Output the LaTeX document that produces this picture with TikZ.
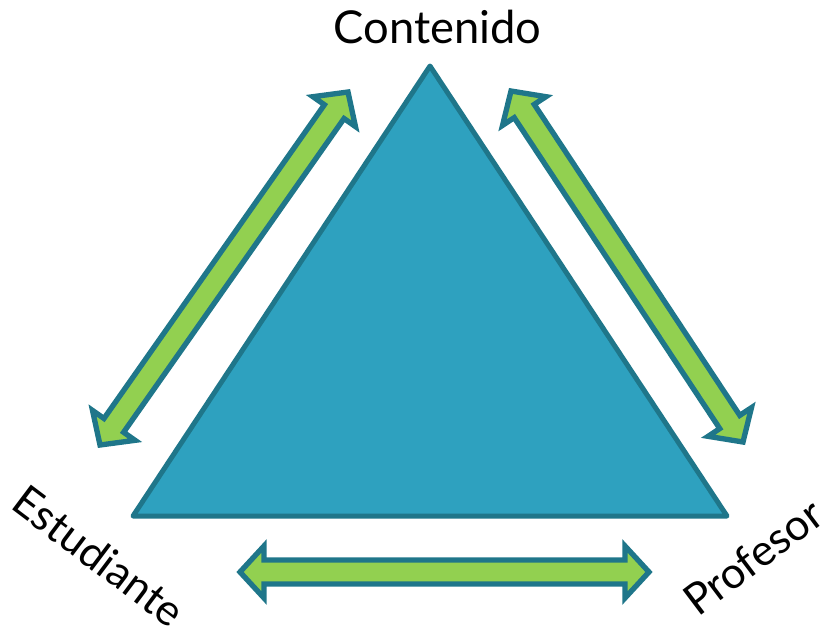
\documentclass[tikz,border=0pt]{standalone}
\usepackage{fontspec}
\setmainfont{Lato}
\usetikzlibrary{calc}

\definecolor{azulT}{HTML}{2EA1BF}
\definecolor{bordeT}{HTML}{1F768A}
\definecolor{verdeF}{HTML}{92D050}

\tikzset{
	vertice/.style={font=\fontsize{32.5}{38}\selectfont, inner sep=0pt},
	flecha/.style={draw=bordeT, fill=verdeF, line width=4pt, line join=miter},
	triangulo/.style={draw=bordeT, fill=azulT, line width=3.75pt, line join=round}
}

% flecha doble: nombre, punta 1, punta 2
\newcommand{\flechadoble}[3]{%
	\coordinate (#1a) at ($(#2)!18pt!(#3)$);
	\coordinate (#1b) at ($(#3)!18pt!(#2)$);
	\draw[flecha] (#2) -- ($(#1a)!19.5pt!90:(#3)$) -- ($(#1a)!9pt!90:(#3)$)
		-- ($(#1b)!9pt!-90:(#2)$) -- ($(#1b)!19.5pt!-90:(#2)$) -- (#3)
		-- ($(#1b)!19.5pt!90:(#2)$) -- ($(#1b)!9pt!90:(#2)$)
		-- ($(#1a)!9pt!-90:(#3)$) -- ($(#1a)!19.5pt!-90:(#3)$) -- cycle;}

\begin{document}
\begin{tikzpicture}[x=0.75pt,y=-0.75pt]
	\useasboundingbox (0,0) rectangle (838,633);
	
	\coordinate (C) at (430,66);
	\coordinate (E) at (133,516);
	\coordinate (P) at (727,516);
	\draw[triangulo] (C) -- (E) -- (P) -- cycle;
	
	\node[vertice, font=\fontsize{34}{40}\selectfont, anchor=base] (contenido) at (437.5,43) {Contenido};
	\node[vertice, rotate=-37] (estudiante) at (99,556) {Estudiante};
	\node[vertice, rotate=37] (profesor) at (753,557) {Profesor};
	
	\coordinate (izq1) at (100,445);
	\coordinate (izq2) at (348,92);
	\coordinate (der1) at (511,91);
	\coordinate (der2) at (743,442);
	\coordinate (aba1) at (240,572);
	\coordinate (aba2) at (649,572);
	
	\flechadoble{fi}{izq1}{izq2}
	\flechadoble{fd}{der1}{der2}
	\flechadoble{fb}{aba1}{aba2}
	
\end{tikzpicture}
\end{document}
